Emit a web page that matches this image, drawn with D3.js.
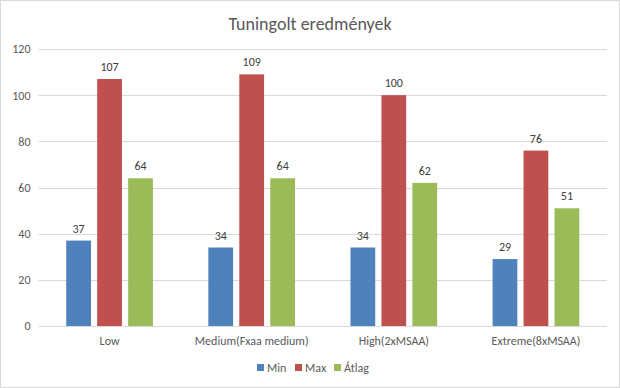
<!DOCTYPE html>
<html>
<head>
<meta charset="utf-8">
<script src="https://cdn.jsdelivr.net/npm/d3@7"></script>
<style>
  body { margin: 0; background: #fff; }
  svg { font-family: Carlito, Lato, "Open Sans", sans-serif; }
</style>
</head>
<body>
<div id="chart"></div>
<script>
const categories = ["Low", "Medium(Fxaa medium)", "High(2xMSAA)", "Extreme(8xMSAA)"];
const seriesNames = ["Min", "Max", "Átlag"];
const minValues = [37, 34, 34, 29];
const maxValues = [107, 109, 100, 76];
const avgValues = [64, 64, 62, 51];
const yTicks = [0, 20, 40, 60, 80, 100, 120];
const colors = ["#4F81BD", "#C0504D", "#9BBB59"];

const seriesValues = [minValues, maxValues, avgValues];

const width = 620;
const height = 388;
const margin = { top: 49, right: 13, bottom: 62, left: 38.5 };

const svg = d3.select("#chart")
    .append("svg")
    .attr("width", width)
    .attr("height", height);

// outer border
svg.append("rect")
    .attr("x", 0.5).attr("y", 0.5)
    .attr("width", width - 1).attr("height", height - 1)
    .attr("fill", "#fff")
    .attr("stroke", "#d9d9d9");

svg.append("text")
    .attr("x", width / 2)
    .attr("y", 30)
    .attr("text-anchor", "middle")
    .attr("font-size", 18)
    .attr("fill", "#595959")
    .text("Tuningolt eredmények");

const x0 = d3.scaleBand()
    .domain(categories)
    .range([margin.left, width - margin.right])
    .paddingInner(0.39)
    .paddingOuter(0.195);

const x1 = d3.scaleBand()
    .domain(seriesNames)
    .range([0, x0.bandwidth()])
    .paddingInner(0.2);

const y = d3.scaleLinear()
    .domain([0, 120])
    .range([height - margin.bottom, margin.top]);

// gridlines
svg.append("g")
    .selectAll("line")
    .data(yTicks)
    .enter()
    .append("line")
    .attr("x1", margin.left)
    .attr("x2", width - margin.right)
    .attr("y1", d => Math.round(y(d)) + 0.5)
    .attr("y2", d => Math.round(y(d)) + 0.5)
    .attr("stroke", "#d9d9d9");

const yAxis = svg.append("g")
    .attr("transform", `translate(${margin.left - 8},0)`)
    .call(d3.axisLeft(y).tickValues(yTicks).tickSize(0).tickPadding(0));
yAxis.select(".domain").remove();
yAxis.selectAll("text")
    .attr("font-size", 12)
    .attr("font-family", "Carlito, Lato, sans-serif")
    .attr("fill", "#595959");

const xAxis = svg.append("g")
    .attr("transform", `translate(0,${height - margin.bottom})`)
    .call(d3.axisBottom(x0).tickSize(0).tickPadding(10));
xAxis.select(".domain").remove();
xAxis.selectAll("text")
    .attr("font-size", 12)
    .attr("font-family", "Carlito, Lato, sans-serif")
    .attr("fill", "#595959");

const groups = svg.append("g")
    .selectAll("g")
    .data(categories)
    .enter()
    .append("g")
    .attr("transform", d => `translate(${x0(d)},0)`);

const bars = groups.selectAll("g")
    .data((c, i) => seriesNames.map((s, j) => ({ series: s, value: seriesValues[j][i], color: colors[j] })))
    .enter()
    .append("g");

bars.append("rect")
    .attr("x", d => x1(d.series))
    .attr("y", d => y(d.value))
    .attr("width", x1.bandwidth())
    .attr("height", d => y(0) - y(d.value))
    .attr("fill", d => d.color);

bars.append("text")
    .attr("x", d => x1(d.series) + x1.bandwidth() / 2)
    .attr("y", d => y(d.value) - 8)
    .attr("text-anchor", "middle")
    .attr("font-size", 12)
    .attr("fill", "#404040")
    .text(d => d.value);

// legend
const legendX = [257, 295, 334];
const legend = svg.append("g")
    .selectAll("g")
    .data(seriesNames)
    .enter()
    .append("g")
    .attr("transform", (d, i) => `translate(${legendX[i]},368)`);

legend.append("rect")
    .attr("x", 0).attr("y", -4)
    .attr("width", 7).attr("height", 7)
    .attr("fill", (d, i) => colors[i]);

legend.append("text")
    .attr("x", 10)
    .attr("y", 4)
    .attr("font-size", 12)
    .attr("fill", "#595959")
    .text(d => d);
</script>
</body>
</html>
